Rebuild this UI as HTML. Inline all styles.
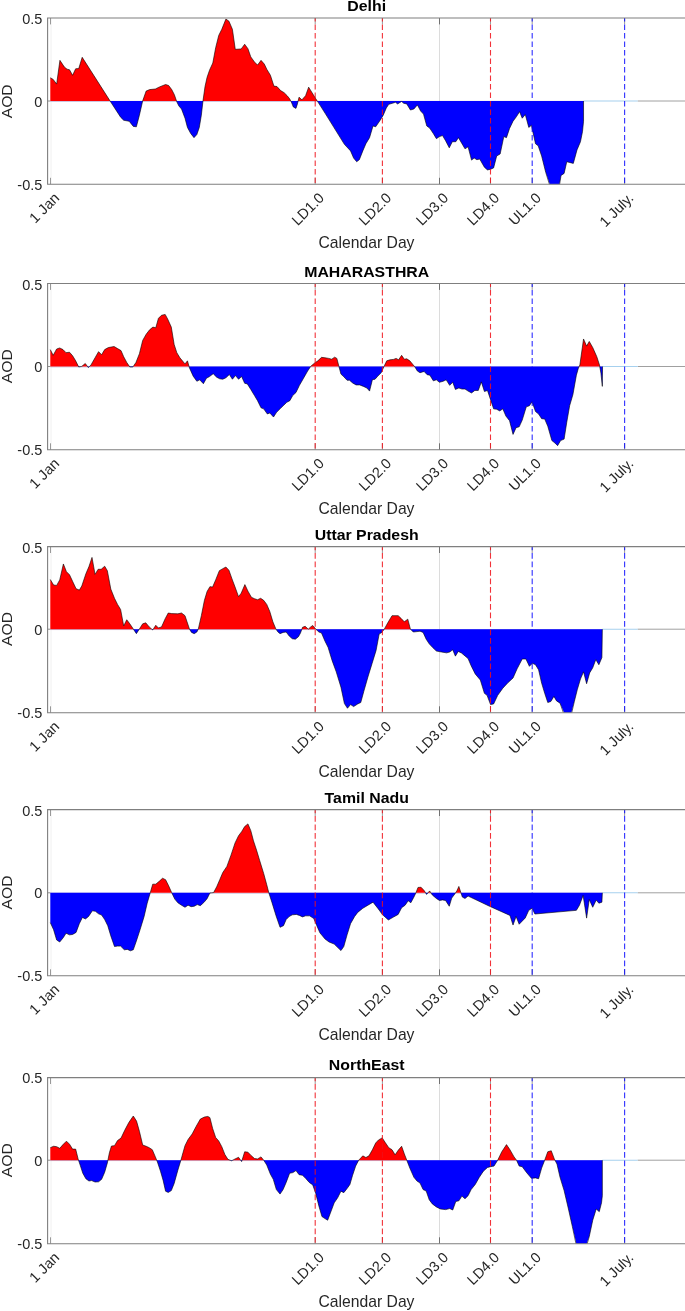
<!DOCTYPE html>
<html><head><meta charset="utf-8"><title>AOD</title>
<style>
html,body{margin:0;padding:0;background:#fff}
svg{display:block}
text{font-family:"Liberation Sans",Arial,sans-serif;fill:#262626}
.t{font-size:14.5px}
.b{font-size:15.4px;font-weight:bold;fill:#000}
.l{font-size:15.7px}
</style></head><body>
<svg width="685" height="1311" viewBox="0 0 685 1311">
<rect width="685" height="1311" fill="#fff"/>

<g>
<clipPath id="cc1"><rect x="47.6" y="18.0" width="642.4" height="166.2"/></clipPath>
<line x1="439.5" y1="18.0" x2="439.5" y2="184.2" stroke="#dcdcdc" stroke-width="1"/>
<line x1="51" y1="18.0" x2="51" y2="184.2" stroke="#f0f0f0" stroke-width="1"/>
<line x1="50.3" y1="101.35" x2="583.5" y2="101.35" stroke="#b4a8d0" stroke-width="0.8"/>
<line x1="47.6" y1="101.0" x2="50.3" y2="101.0" stroke="#8c8c8c" stroke-width="1"/>
<line x1="637.7" y1="101.0" x2="685" y2="101.0" stroke="#a0a0a0" stroke-width="1"/>
<line x1="583.5" y1="101.0" x2="637.7" y2="101.0" stroke="#a6d0ee" stroke-width="1.1"/>
<path d="M50.31 101.00 L50.31 77.74 L53.18 79.38 L56.65 84.08 L59.92 60.37 L64.42 67.12 L67.07 69.16 L69.53 69.77 L72.59 75.29 L75.66 68.75 L78.72 68.55 L82.20 57.31 L109.99 100.84 L110.09 101.00 L120.62 101.00 L123.69 101.00 L129.20 101.00 L133.29 101.00 L136.36 101.00 L139.42 101.00 L142.65 101.00 L142.69 100.84 L146.17 91.03 L149.64 89.60 L155.36 88.99 L159.45 86.94 L165.58 84.49 L168.65 85.51 L171.72 89.60 L174.37 94.71 L176.53 101.00 L176.82 101.00 L178.87 101.00 L181.53 101.00 L185.00 101.00 L187.45 101.00 L190.72 101.00 L193.99 101.00 L196.85 101.00 L199.31 101.00 L201.35 101.00 L202.97 101.00 L202.99 100.84 L205.03 86.53 L207.07 77.34 L209.53 70.18 L212.80 63.03 L215.66 47.70 L218.72 35.44 L221.79 29.31 L225.88 19.09 L228.94 21.13 L232.42 29.31 L235.28 49.34 L241.20 48.93 L244.68 44.23 L247.95 48.72 L250.81 56.90 L254.49 62.01 L257.55 65.07 L261.03 60.37 L264.30 64.05 L266.75 69.16 L270.43 75.29 L273.91 86.12 L276.97 86.53 L280.65 90.62 L284.12 92.66 L287.19 95.73 L289.64 98.80 L290.82 101.00 L291.28 101.00 L293.32 101.00 L295.98 101.00 L297.41 101.00 L298.11 101.00 L299.04 97.16 L301.91 99.82 L305.58 95.73 L308.65 87.15 L315.80 98.80 L317.27 101.00 L317.85 101.00 L325.00 101.00 L344.42 101.00 L350.55 101.00 L353.61 101.00 L356.68 101.00 L359.34 101.00 L362.81 101.00 L365.88 101.00 L369.55 101.00 L373.03 101.00 L375.69 101.00 L380.18 101.00 L383.25 101.00 L386.31 101.00 L388.77 101.00 L392.45 101.00 L395.51 101.00 L397.55 101.00 L401.64 101.00 L403.69 101.00 L406.75 101.00 L410.43 101.00 L413.91 101.00 L417.38 101.00 L420.65 101.00 L423.51 101.00 L426.78 101.00 L429.64 101.00 L433.32 101.00 L436.39 101.00 L439.45 101.00 L442.52 101.00 L445.58 101.00 L449.26 101.00 L452.33 101.00 L455.80 101.00 L458.46 101.00 L465.00 101.00 L468.07 101.00 L471.54 101.00 L474.20 101.00 L476.85 101.00 L479.72 101.00 L484.42 101.00 L487.48 101.00 L490.55 101.00 L493.61 101.00 L496.68 101.00 L500.15 101.00 L503.83 101.00 L506.49 101.00 L509.55 101.00 L513.03 101.00 L516.50 101.00 L519.57 101.00 L522.23 101.00 L525.29 101.00 L528.77 101.00 L531.42 101.00 L535.51 101.00 L538.17 101.00 L541.64 101.00 L545.73 101.00 L549.82 101.00 L559.42 101.00 L561.06 101.00 L564.12 101.00 L566.78 101.00 L573.32 101.00 L577.00 101.00 L580.47 101.00 L582.52 101.00 L583.54 101.00 L583.54 101.00 Z" fill="#ff0000"/>
<path d="M50.31 101.00 L50.31 101.00 L53.18 101.00 L56.65 101.00 L59.92 101.00 L64.42 101.00 L67.07 101.00 L69.53 101.00 L72.59 101.00 L75.66 101.00 L78.72 101.00 L82.20 101.00 L109.99 101.00 L110.09 101.00 L120.62 117.19 L123.69 120.26 L129.20 121.28 L133.29 126.39 L136.36 126.80 L139.42 115.15 L142.65 101.00 L142.69 101.00 L146.17 101.00 L149.64 101.00 L155.36 101.00 L159.45 101.00 L165.58 101.00 L168.65 101.00 L171.72 101.00 L174.37 101.00 L176.53 101.00 L176.82 101.86 L178.87 105.95 L181.53 109.01 L185.00 118.21 L187.45 127.41 L190.72 133.54 L193.99 137.63 L196.85 134.56 L199.31 127.41 L201.35 115.15 L202.97 101.00 L202.99 101.00 L205.03 101.00 L207.07 101.00 L209.53 101.00 L212.80 101.00 L215.66 101.00 L218.72 101.00 L221.79 101.00 L225.88 101.00 L228.94 101.00 L232.42 101.00 L235.28 101.00 L241.20 101.00 L244.68 101.00 L247.95 101.00 L250.81 101.00 L254.49 101.00 L257.55 101.00 L261.03 101.00 L264.30 101.00 L266.75 101.00 L270.43 101.00 L273.91 101.00 L276.97 101.00 L280.65 101.00 L284.12 101.00 L287.19 101.00 L289.64 101.00 L290.82 101.00 L291.28 101.86 L293.32 106.97 L295.98 108.40 L297.41 103.91 L298.11 101.00 L299.04 101.00 L301.91 101.00 L305.58 101.00 L308.65 101.00 L315.80 101.00 L317.27 101.00 L317.85 101.86 L325.00 113.10 L344.42 144.37 L350.55 150.91 L353.61 158.07 L356.68 161.74 L359.34 159.70 L362.81 150.91 L365.88 143.76 L369.55 137.63 L373.03 125.98 L375.69 126.80 L380.18 120.26 L383.25 115.15 L386.31 107.99 L388.77 104.31 L392.45 103.29 L395.51 102.27 L397.55 103.91 L401.64 101.45 L403.69 103.29 L406.75 103.91 L410.43 110.04 L413.91 109.01 L417.38 104.93 L420.65 111.06 L423.51 114.12 L426.78 125.98 L429.64 128.02 L433.32 133.54 L436.39 138.65 L439.45 136.61 L442.52 135.58 L445.58 140.69 L449.26 147.85 L452.33 141.72 L455.80 141.72 L458.46 137.63 L465.00 148.87 L468.07 146.82 L471.54 160.11 L474.20 158.07 L476.85 159.70 L479.72 159.09 L484.42 167.26 L487.48 169.92 L490.55 169.31 L493.61 167.88 L496.68 156.02 L500.15 153.98 L503.83 136.61 L506.49 137.63 L509.55 128.43 L513.03 121.28 L516.50 116.58 L519.57 111.67 L522.23 118.21 L525.29 114.53 L528.77 127.41 L531.42 125.36 L535.51 143.76 L538.17 145.80 L541.64 156.02 L545.73 172.37 L549.82 184.20 L559.42 184.20 L561.06 175.44 L564.12 173.39 L566.78 161.74 L573.32 163.38 L577.00 149.89 L580.47 141.72 L582.52 131.50 L583.54 121.28 L583.54 101.00 Z" fill="#0000ff"/>
<path d="M50.31 77.74 L53.18 79.38 L56.65 84.08 L59.92 60.37 L64.42 67.12 L67.07 69.16 L69.53 69.77 L72.59 75.29 L75.66 68.75 L78.72 68.55 L82.20 57.31 L109.99 100.84 L120.62 117.19 L123.69 120.26 L129.20 121.28 L133.29 126.39 L136.36 126.80 L139.42 115.15 L142.69 100.84 L146.17 91.03 L149.64 89.60 L155.36 88.99 L159.45 86.94 L165.58 84.49 L168.65 85.51 L171.72 89.60 L174.37 94.71 L176.82 101.86 L178.87 105.95 L181.53 109.01 L185.00 118.21 L187.45 127.41 L190.72 133.54 L193.99 137.63 L196.85 134.56 L199.31 127.41 L201.35 115.15 L202.99 100.84 L205.03 86.53 L207.07 77.34 L209.53 70.18 L212.80 63.03 L215.66 47.70 L218.72 35.44 L221.79 29.31 L225.88 19.09 L228.94 21.13 L232.42 29.31 L235.28 49.34 L241.20 48.93 L244.68 44.23 L247.95 48.72 L250.81 56.90 L254.49 62.01 L257.55 65.07 L261.03 60.37 L264.30 64.05 L266.75 69.16 L270.43 75.29 L273.91 86.12 L276.97 86.53 L280.65 90.62 L284.12 92.66 L287.19 95.73 L289.64 98.80 L291.28 101.86 L293.32 106.97 L295.98 108.40 L297.41 103.91 L299.04 97.16 L301.91 99.82 L305.58 95.73 L308.65 87.15 L315.80 98.80 L317.85 101.86 L325.00 113.10 L344.42 144.37 L350.55 150.91 L353.61 158.07 L356.68 161.74 L359.34 159.70 L362.81 150.91 L365.88 143.76 L369.55 137.63 L373.03 125.98 L375.69 126.80 L380.18 120.26 L383.25 115.15 L386.31 107.99 L388.77 104.31 L392.45 103.29 L395.51 102.27 L397.55 103.91 L401.64 101.45 L403.69 103.29 L406.75 103.91 L410.43 110.04 L413.91 109.01 L417.38 104.93 L420.65 111.06 L423.51 114.12 L426.78 125.98 L429.64 128.02 L433.32 133.54 L436.39 138.65 L439.45 136.61 L442.52 135.58 L445.58 140.69 L449.26 147.85 L452.33 141.72 L455.80 141.72 L458.46 137.63 L465.00 148.87 L468.07 146.82 L471.54 160.11 L474.20 158.07 L476.85 159.70 L479.72 159.09 L484.42 167.26 L487.48 169.92 L490.55 169.31 L493.61 167.88 L496.68 156.02 L500.15 153.98 L503.83 136.61 L506.49 137.63 L509.55 128.43 L513.03 121.28 L516.50 116.58 L519.57 111.67 L522.23 118.21 L525.29 114.53 L528.77 127.41 L531.42 125.36 L535.51 143.76 L538.17 145.80 L541.64 156.02 L545.73 172.37 L549.82 185.66 L559.42 185.66 L561.06 175.44 L564.12 173.39 L566.78 161.74 L573.32 163.38 L577.00 149.89 L580.47 141.72 L582.52 131.50 L583.54 121.28 L583.54 101.00" fill="none" stroke="#000" stroke-width="0.6" stroke-linejoin="round" clip-path="url(#cc1)"/>
<line x1="50.5" y1="18.0" x2="50.5" y2="24.4" stroke="#808080" stroke-width="0.8"/>
<line x1="50.5" y1="184.2" x2="50.5" y2="177.79999999999998" stroke="#808080" stroke-width="0.8"/>
<line x1="315.2" y1="18.0" x2="315.2" y2="24.4" stroke="#808080" stroke-width="0.8"/>
<line x1="315.2" y1="184.2" x2="315.2" y2="177.79999999999998" stroke="#808080" stroke-width="0.8"/>
<line x1="382.4" y1="18.0" x2="382.4" y2="24.4" stroke="#808080" stroke-width="0.8"/>
<line x1="382.4" y1="184.2" x2="382.4" y2="177.79999999999998" stroke="#808080" stroke-width="0.8"/>
<line x1="439.5" y1="18.0" x2="439.5" y2="24.4" stroke="#555" stroke-width="0.8"/>
<line x1="439.5" y1="184.2" x2="439.5" y2="177.79999999999998" stroke="#555" stroke-width="0.8"/>
<line x1="490.5" y1="18.0" x2="490.5" y2="24.4" stroke="#808080" stroke-width="0.8"/>
<line x1="490.5" y1="184.2" x2="490.5" y2="177.79999999999998" stroke="#808080" stroke-width="0.8"/>
<line x1="532.2" y1="18.0" x2="532.2" y2="24.4" stroke="#808080" stroke-width="0.8"/>
<line x1="532.2" y1="184.2" x2="532.2" y2="177.79999999999998" stroke="#808080" stroke-width="0.8"/>
<line x1="624.6" y1="18.0" x2="624.6" y2="24.4" stroke="#808080" stroke-width="0.8"/>
<line x1="624.6" y1="184.2" x2="624.6" y2="177.79999999999998" stroke="#808080" stroke-width="0.8"/>
<line x1="315.2" y1="18.0" x2="315.2" y2="184.2" stroke="#f01018" stroke-width="1.1" stroke-dasharray="5.7 2.8" stroke-dashoffset="2.1" opacity="0.85"/>
<line x1="382.4" y1="18.0" x2="382.4" y2="184.2" stroke="#f01018" stroke-width="1.1" stroke-dasharray="5.7 2.8" stroke-dashoffset="2.1" opacity="0.85"/>
<line x1="490.5" y1="18.0" x2="490.5" y2="184.2" stroke="#f01018" stroke-width="1.1" stroke-dasharray="5.7 2.8" stroke-dashoffset="2.1" opacity="0.85"/>
<line x1="532.2" y1="18.0" x2="532.2" y2="184.2" stroke="#0000ff" stroke-width="1.15" stroke-dasharray="5.7 2.8" stroke-dashoffset="2.1" opacity="0.78"/>
<line x1="624.6" y1="18.0" x2="624.6" y2="184.2" stroke="#0000ff" stroke-width="1.15" stroke-dasharray="5.7 2.8" stroke-dashoffset="2.1" opacity="0.78"/>
<path d="M685 18.0 H47.6 V184.2 H685" fill="none" stroke="#7f7f7f" stroke-width="1.1"/>
<text class="t" x="42.3" y="24" text-anchor="end">0.5</text>
<text class="t" x="42.3" y="107" text-anchor="end">0</text>
<text class="t" x="42.3" y="190" text-anchor="end">-0.5</text>
<text class="l" transform="translate(12.4 101.3) rotate(-90) scale(1 0.96)" text-anchor="middle">AOD</text>
<text class="t" transform="translate(60.3 198.9) rotate(-45)" text-anchor="end">1 Jan</text>
<text class="t" transform="translate(325.0 198.9) rotate(-45)" text-anchor="end">LD1.0</text>
<text class="t" transform="translate(392.2 198.9) rotate(-45)" text-anchor="end">LD2.0</text>
<text class="t" transform="translate(449.3 198.9) rotate(-45)" text-anchor="end">LD3.0</text>
<text class="t" transform="translate(500.3 198.9) rotate(-45)" text-anchor="end">LD4.0</text>
<text class="t" transform="translate(542.0 198.9) rotate(-45)" text-anchor="end">UL1.0</text>
<text class="t" transform="translate(634.4 198.9) rotate(-45)" text-anchor="end">1 July.</text>
<text class="l" x="366.5" y="248" text-anchor="middle">Calendar Day</text>
<text class="b" transform="translate(366.7 11) scale(1.03 1)" text-anchor="middle">Delhi</text>
</g>
<g>
<clipPath id="cc2"><rect x="47.6" y="283.5" width="642.4" height="166.2"/></clipPath>
<line x1="439.5" y1="283.5" x2="439.5" y2="449.7" stroke="#dcdcdc" stroke-width="1"/>
<line x1="51" y1="283.5" x2="51" y2="449.7" stroke="#f0f0f0" stroke-width="1"/>
<line x1="50.3" y1="366.85" x2="602.5" y2="366.85" stroke="#b4a8d0" stroke-width="0.8"/>
<line x1="47.6" y1="366.5" x2="50.3" y2="366.5" stroke="#8c8c8c" stroke-width="1"/>
<line x1="637.7" y1="366.5" x2="685" y2="366.5" stroke="#a0a0a0" stroke-width="1"/>
<line x1="602.5" y1="366.5" x2="637.7" y2="366.5" stroke="#a6d0ee" stroke-width="1.1"/>
<path d="M50.31 366.50 L50.31 349.60 L53.18 355.32 L56.65 348.99 L59.72 347.96 L62.99 349.60 L66.05 352.66 L69.53 352.26 L72.59 355.73 L75.66 360.84 L78.49 366.50 L78.72 366.50 L81.09 366.50 L81.79 366.36 L85.26 363.50 L87.52 366.50 L88.33 366.50 L89.41 366.50 L90.99 364.93 L95.07 357.77 L98.55 351.64 L101.61 354.71 L104.68 349.60 L108.36 347.55 L114.08 346.53 L117.55 348.58 L121.03 350.62 L123.69 356.75 L126.75 362.47 L129.50 366.50 L129.82 366.50 L132.88 366.50 L133.20 366.50 L135.95 362.47 L139.42 353.69 L142.69 340.40 L146.17 334.27 L149.64 329.77 L152.91 327.12 L155.77 327.73 L158.43 318.33 L161.50 315.26 L165.18 314.45 L167.63 318.94 L171.31 327.12 L174.17 344.49 L176.82 352.66 L179.89 357.77 L185.00 363.91 L187.45 360.84 L189.07 366.50 L189.50 366.50 L193.18 366.50 L196.85 366.50 L199.72 366.50 L203.39 366.50 L206.46 366.50 L209.53 366.50 L213.20 366.50 L216.68 366.50 L219.74 366.50 L222.81 366.50 L225.88 366.50 L229.35 366.50 L232.42 366.50 L235.48 366.50 L238.55 366.50 L241.61 366.50 L244.68 366.50 L247.34 366.50 L250.81 366.50 L254.49 366.50 L257.55 366.50 L261.03 366.50 L263.69 366.50 L267.36 366.50 L269.82 366.50 L273.50 366.50 L276.56 366.50 L280.04 366.50 L283.51 366.50 L286.78 366.50 L289.85 366.50 L292.71 366.50 L295.98 366.50 L299.45 366.50 L303.54 366.50 L307.63 366.50 L310.60 366.50 L310.69 366.36 L314.78 362.88 L317.85 360.84 L321.53 357.36 L325.00 357.77 L328.68 358.39 L331.74 359.20 L334.61 357.16 L336.85 358.39 L338.90 366.36 L338.94 366.50 L340.94 366.50 L343.80 366.50 L347.07 366.50 L349.53 366.50 L352.59 366.50 L356.07 366.50 L359.74 366.50 L363.42 366.50 L366.90 366.50 L369.55 366.50 L372.42 366.50 L375.07 366.50 L377.73 366.50 L381.20 366.50 L384.02 366.50 L384.27 365.95 L386.72 360.84 L389.99 359.82 L393.47 359.41 L396.12 358.39 L398.58 359.82 L401.64 355.32 L404.30 359.20 L406.75 358.80 L409.82 360.84 L412.88 364.52 L414.54 366.50 L414.93 366.50 L417.38 366.50 L420.04 366.50 L424.12 366.50 L427.19 366.50 L429.85 366.50 L433.32 366.50 L436.39 366.50 L439.45 366.50 L443.13 366.50 L446.20 366.50 L449.67 366.50 L452.74 366.50 L455.39 366.50 L458.87 366.50 L461.93 366.50 L465.00 366.50 L468.07 366.50 L471.54 366.50 L474.81 366.50 L478.28 366.50 L481.35 366.50 L484.42 366.50 L487.48 366.50 L490.55 366.50 L493.61 366.50 L496.68 366.50 L499.74 366.50 L502.81 366.50 L505.88 366.50 L509.55 366.50 L513.03 366.50 L516.09 366.50 L519.16 366.50 L522.23 366.50 L526.31 366.50 L529.38 366.50 L532.04 366.50 L535.51 366.50 L538.58 366.50 L541.64 366.50 L544.71 366.50 L547.77 366.50 L551.86 366.50 L554.93 366.50 L557.58 366.50 L560.65 366.50 L564.12 366.50 L566.78 366.50 L569.64 366.50 L572.91 366.50 L576.39 366.50 L578.43 366.50 L579.13 366.50 L579.86 364.93 L583.54 338.97 L586.61 346.12 L589.26 341.42 L592.74 347.55 L596.82 356.75 L599.48 364.93 L599.75 366.50 L600.91 366.50 L602.34 366.50 L602.55 366.50 Z" fill="#ff0000"/>
<path d="M50.31 366.50 L50.31 366.50 L53.18 366.50 L56.65 366.50 L59.72 366.50 L62.99 366.50 L66.05 366.50 L69.53 366.50 L72.59 366.50 L75.66 366.50 L78.49 366.50 L78.72 366.97 L81.09 366.50 L81.79 366.50 L85.26 366.50 L87.52 366.50 L88.33 367.58 L89.41 366.50 L90.99 366.50 L95.07 366.50 L98.55 366.50 L101.61 366.50 L104.68 366.50 L108.36 366.50 L114.08 366.50 L117.55 366.50 L121.03 366.50 L123.69 366.50 L126.75 366.50 L129.50 366.50 L129.82 366.97 L132.88 366.97 L133.20 366.50 L135.95 366.50 L139.42 366.50 L142.69 366.50 L146.17 366.50 L149.64 366.50 L152.91 366.50 L155.77 366.50 L158.43 366.50 L161.50 366.50 L165.18 366.50 L167.63 366.50 L171.31 366.50 L174.17 366.50 L176.82 366.50 L179.89 366.50 L185.00 366.50 L187.45 366.50 L189.07 366.50 L189.50 367.99 L193.18 376.17 L196.85 381.28 L199.72 379.85 L203.39 383.73 L206.46 378.21 L209.53 376.58 L213.20 373.72 L216.68 377.19 L219.74 378.82 L222.81 379.23 L225.88 377.80 L229.35 374.53 L232.42 379.23 L235.48 375.55 L238.55 379.23 L241.61 376.58 L244.68 383.32 L247.34 383.93 L250.81 389.45 L254.49 395.58 L257.55 400.69 L261.03 407.85 L263.69 408.87 L267.36 413.98 L269.82 412.96 L273.50 417.04 L276.56 412.34 L280.04 408.87 L283.51 405.39 L286.78 402.33 L289.85 400.69 L292.71 395.58 L295.98 392.52 L299.45 385.36 L303.54 378.21 L307.63 371.06 L310.60 366.50 L310.69 366.50 L314.78 366.50 L317.85 366.50 L321.53 366.50 L325.00 366.50 L328.68 366.50 L331.74 366.50 L334.61 366.50 L336.85 366.50 L338.90 366.50 L338.94 366.50 L340.94 374.12 L343.80 376.78 L347.07 380.26 L349.53 380.26 L352.59 382.91 L356.07 384.96 L359.74 384.96 L363.42 386.39 L366.90 388.02 L369.55 391.09 L372.42 379.64 L375.07 379.23 L377.73 376.17 L381.20 372.69 L384.02 366.50 L384.27 366.50 L386.72 366.50 L389.99 366.50 L393.47 366.50 L396.12 366.50 L398.58 366.50 L401.64 366.50 L404.30 366.50 L406.75 366.50 L409.82 366.50 L412.88 366.50 L414.54 366.50 L414.93 366.97 L417.38 371.06 L420.04 372.69 L424.12 371.47 L427.19 374.74 L429.85 375.15 L433.32 380.87 L436.39 379.85 L439.45 382.30 L443.13 381.28 L446.20 379.85 L449.67 385.36 L452.74 382.30 L455.39 389.45 L458.87 388.02 L461.93 389.04 L465.00 389.04 L468.07 391.09 L471.54 392.93 L474.81 390.47 L478.28 390.47 L481.35 381.89 L484.42 391.50 L487.48 390.47 L490.55 399.67 L493.61 408.87 L496.68 409.28 L499.74 410.91 L502.81 408.87 L505.88 416.02 L509.55 420.72 L513.03 434.42 L516.09 427.67 L519.16 426.85 L522.23 420.11 L526.31 406.82 L529.38 405.80 L532.04 401.72 L535.51 411.53 L538.58 413.98 L541.64 418.68 L544.71 419.09 L547.77 426.24 L551.86 440.55 L554.93 443.00 L557.58 445.66 L560.65 440.55 L564.12 439.12 L566.78 422.15 L569.64 405.80 L572.91 394.56 L576.39 375.15 L578.43 367.99 L579.13 366.50 L579.86 366.50 L583.54 366.50 L586.61 366.50 L589.26 366.50 L592.74 366.50 L596.82 366.50 L599.48 366.50 L599.75 366.50 L600.91 373.10 L602.34 386.39 L602.55 366.50 Z" fill="#0000ff"/>
<path d="M50.31 349.60 L53.18 355.32 L56.65 348.99 L59.72 347.96 L62.99 349.60 L66.05 352.66 L69.53 352.26 L72.59 355.73 L75.66 360.84 L78.72 366.97 L81.79 366.36 L85.26 363.50 L88.33 367.58 L90.99 364.93 L95.07 357.77 L98.55 351.64 L101.61 354.71 L104.68 349.60 L108.36 347.55 L114.08 346.53 L117.55 348.58 L121.03 350.62 L123.69 356.75 L126.75 362.47 L129.82 366.97 L132.88 366.97 L135.95 362.47 L139.42 353.69 L142.69 340.40 L146.17 334.27 L149.64 329.77 L152.91 327.12 L155.77 327.73 L158.43 318.33 L161.50 315.26 L165.18 314.45 L167.63 318.94 L171.31 327.12 L174.17 344.49 L176.82 352.66 L179.89 357.77 L185.00 363.91 L187.45 360.84 L189.50 367.99 L193.18 376.17 L196.85 381.28 L199.72 379.85 L203.39 383.73 L206.46 378.21 L209.53 376.58 L213.20 373.72 L216.68 377.19 L219.74 378.82 L222.81 379.23 L225.88 377.80 L229.35 374.53 L232.42 379.23 L235.48 375.55 L238.55 379.23 L241.61 376.58 L244.68 383.32 L247.34 383.93 L250.81 389.45 L254.49 395.58 L257.55 400.69 L261.03 407.85 L263.69 408.87 L267.36 413.98 L269.82 412.96 L273.50 417.04 L276.56 412.34 L280.04 408.87 L283.51 405.39 L286.78 402.33 L289.85 400.69 L292.71 395.58 L295.98 392.52 L299.45 385.36 L303.54 378.21 L307.63 371.06 L310.69 366.36 L314.78 362.88 L317.85 360.84 L321.53 357.36 L325.00 357.77 L328.68 358.39 L331.74 359.20 L334.61 357.16 L336.85 358.39 L338.90 366.36 L340.94 374.12 L343.80 376.78 L347.07 380.26 L349.53 380.26 L352.59 382.91 L356.07 384.96 L359.74 384.96 L363.42 386.39 L366.90 388.02 L369.55 391.09 L372.42 379.64 L375.07 379.23 L377.73 376.17 L381.20 372.69 L384.27 365.95 L386.72 360.84 L389.99 359.82 L393.47 359.41 L396.12 358.39 L398.58 359.82 L401.64 355.32 L404.30 359.20 L406.75 358.80 L409.82 360.84 L412.88 364.52 L414.93 366.97 L417.38 371.06 L420.04 372.69 L424.12 371.47 L427.19 374.74 L429.85 375.15 L433.32 380.87 L436.39 379.85 L439.45 382.30 L443.13 381.28 L446.20 379.85 L449.67 385.36 L452.74 382.30 L455.39 389.45 L458.87 388.02 L461.93 389.04 L465.00 389.04 L468.07 391.09 L471.54 392.93 L474.81 390.47 L478.28 390.47 L481.35 381.89 L484.42 391.50 L487.48 390.47 L490.55 399.67 L493.61 408.87 L496.68 409.28 L499.74 410.91 L502.81 408.87 L505.88 416.02 L509.55 420.72 L513.03 434.42 L516.09 427.67 L519.16 426.85 L522.23 420.11 L526.31 406.82 L529.38 405.80 L532.04 401.72 L535.51 411.53 L538.58 413.98 L541.64 418.68 L544.71 419.09 L547.77 426.24 L551.86 440.55 L554.93 443.00 L557.58 445.66 L560.65 440.55 L564.12 439.12 L566.78 422.15 L569.64 405.80 L572.91 394.56 L576.39 375.15 L578.43 367.99 L579.86 364.93 L583.54 338.97 L586.61 346.12 L589.26 341.42 L592.74 347.55 L596.82 356.75 L599.48 364.93 L600.91 373.10 L602.34 386.39 L602.55 366.50" fill="none" stroke="#000" stroke-width="0.6" stroke-linejoin="round" clip-path="url(#cc2)"/>
<line x1="50.5" y1="283.5" x2="50.5" y2="289.9" stroke="#808080" stroke-width="0.8"/>
<line x1="50.5" y1="449.7" x2="50.5" y2="443.3" stroke="#808080" stroke-width="0.8"/>
<line x1="315.2" y1="283.5" x2="315.2" y2="289.9" stroke="#808080" stroke-width="0.8"/>
<line x1="315.2" y1="449.7" x2="315.2" y2="443.3" stroke="#808080" stroke-width="0.8"/>
<line x1="382.4" y1="283.5" x2="382.4" y2="289.9" stroke="#808080" stroke-width="0.8"/>
<line x1="382.4" y1="449.7" x2="382.4" y2="443.3" stroke="#808080" stroke-width="0.8"/>
<line x1="439.5" y1="283.5" x2="439.5" y2="289.9" stroke="#555" stroke-width="0.8"/>
<line x1="439.5" y1="449.7" x2="439.5" y2="443.3" stroke="#555" stroke-width="0.8"/>
<line x1="490.5" y1="283.5" x2="490.5" y2="289.9" stroke="#808080" stroke-width="0.8"/>
<line x1="490.5" y1="449.7" x2="490.5" y2="443.3" stroke="#808080" stroke-width="0.8"/>
<line x1="532.2" y1="283.5" x2="532.2" y2="289.9" stroke="#808080" stroke-width="0.8"/>
<line x1="532.2" y1="449.7" x2="532.2" y2="443.3" stroke="#808080" stroke-width="0.8"/>
<line x1="624.6" y1="283.5" x2="624.6" y2="289.9" stroke="#808080" stroke-width="0.8"/>
<line x1="624.6" y1="449.7" x2="624.6" y2="443.3" stroke="#808080" stroke-width="0.8"/>
<line x1="315.2" y1="283.5" x2="315.2" y2="449.7" stroke="#f01018" stroke-width="1.1" stroke-dasharray="5.7 2.8" stroke-dashoffset="2.1" opacity="0.85"/>
<line x1="382.4" y1="283.5" x2="382.4" y2="449.7" stroke="#f01018" stroke-width="1.1" stroke-dasharray="5.7 2.8" stroke-dashoffset="2.1" opacity="0.85"/>
<line x1="490.5" y1="283.5" x2="490.5" y2="449.7" stroke="#f01018" stroke-width="1.1" stroke-dasharray="5.7 2.8" stroke-dashoffset="2.1" opacity="0.85"/>
<line x1="532.2" y1="283.5" x2="532.2" y2="449.7" stroke="#0000ff" stroke-width="1.15" stroke-dasharray="5.7 2.8" stroke-dashoffset="2.1" opacity="0.78"/>
<line x1="624.6" y1="283.5" x2="624.6" y2="449.7" stroke="#0000ff" stroke-width="1.15" stroke-dasharray="5.7 2.8" stroke-dashoffset="2.1" opacity="0.78"/>
<path d="M685 283.5 H47.6 V449.7 H685" fill="none" stroke="#7f7f7f" stroke-width="1.1"/>
<text class="t" x="42.3" y="290" text-anchor="end">0.5</text>
<text class="t" x="42.3" y="372" text-anchor="end">0</text>
<text class="t" x="42.3" y="455" text-anchor="end">-0.5</text>
<text class="l" transform="translate(12.4 366.2) rotate(-90) scale(1 0.96)" text-anchor="middle">AOD</text>
<text class="t" transform="translate(60.3 464.4) rotate(-45)" text-anchor="end">1 Jan</text>
<text class="t" transform="translate(325.0 464.4) rotate(-45)" text-anchor="end">LD1.0</text>
<text class="t" transform="translate(392.2 464.4) rotate(-45)" text-anchor="end">LD2.0</text>
<text class="t" transform="translate(449.3 464.4) rotate(-45)" text-anchor="end">LD3.0</text>
<text class="t" transform="translate(500.3 464.4) rotate(-45)" text-anchor="end">LD4.0</text>
<text class="t" transform="translate(542.0 464.4) rotate(-45)" text-anchor="end">UL1.0</text>
<text class="t" transform="translate(634.4 464.4) rotate(-45)" text-anchor="end">1 July.</text>
<text class="l" x="366.5" y="514" text-anchor="middle">Calendar Day</text>
<text class="b" transform="translate(366.7 277) scale(1.03 1)" text-anchor="middle">MAHARASTHRA</text>
</g>
<g>
<clipPath id="cc3"><rect x="47.6" y="546.6" width="642.4" height="166.10000000000002"/></clipPath>
<line x1="439.5" y1="546.6" x2="439.5" y2="712.7" stroke="#dcdcdc" stroke-width="1"/>
<line x1="51" y1="546.6" x2="51" y2="712.7" stroke="#f0f0f0" stroke-width="1"/>
<line x1="50.3" y1="629.5500000000001" x2="602.3" y2="629.5500000000001" stroke="#b4a8d0" stroke-width="0.8"/>
<line x1="47.6" y1="629.2" x2="50.3" y2="629.2" stroke="#8c8c8c" stroke-width="1"/>
<line x1="637.7" y1="629.2" x2="685" y2="629.2" stroke="#a0a0a0" stroke-width="1"/>
<line x1="602.3" y1="629.2" x2="637.7" y2="629.2" stroke="#a6d0ee" stroke-width="1.1"/>
<path d="M50.31 629.20 L50.31 579.49 L53.58 585.01 L56.65 585.42 L59.72 579.90 L63.39 563.96 L66.46 571.72 L69.53 574.79 L72.59 581.33 L76.07 588.69 L79.34 590.12 L81.79 586.03 L85.88 573.77 L88.94 566.61 L92.01 557.42 L95.07 574.38 L98.14 569.27 L101.20 569.27 L104.68 566.20 L107.34 570.70 L110.81 589.09 L114.49 598.29 L117.55 604.42 L120.62 609.53 L123.69 625.88 L126.75 619.75 L129.82 623.84 L133.29 628.95 L133.45 629.20 L136.36 629.20 L139.26 629.20 L139.42 628.95 L142.69 623.84 L145.76 622.82 L149.23 626.91 L151.83 629.20 L152.71 629.20 L153.21 629.20 L155.77 625.27 L158.43 627.93 L161.50 626.91 L165.18 618.73 L168.24 613.01 L171.72 613.62 L177.85 613.82 L181.53 613.01 L185.00 615.66 L187.04 621.80 L189.50 629.15 L189.53 629.20 L191.54 629.20 L194.20 629.20 L196.85 629.20 L198.25 629.20 L198.28 629.15 L201.35 615.66 L204.42 600.34 L207.07 591.55 L209.93 586.64 L212.59 587.05 L215.66 579.90 L219.34 570.70 L222.81 568.66 L225.88 567.02 L228.94 570.29 L232.01 578.88 L235.07 587.05 L238.55 596.66 L241.20 593.18 L244.88 584.60 L247.95 591.14 L251.42 597.27 L254.49 598.70 L257.55 599.72 L260.62 598.29 L263.69 600.34 L266.75 604.42 L269.82 611.58 L272.88 621.80 L275.95 629.15 L275.99 629.20 L277.99 629.20 L280.04 629.20 L283.10 629.20 L286.17 629.20 L289.23 629.20 L292.30 629.20 L295.36 629.20 L298.43 629.20 L300.47 629.20 L301.84 629.20 L302.52 627.31 L305.18 626.29 L308.24 629.15 L310.69 626.91 L312.74 625.47 L315.80 629.15 L315.85 629.20 L318.87 629.20 L321.53 629.20 L325.00 629.20 L328.07 629.20 L332.15 629.20 L336.24 629.20 L340.94 629.20 L344.42 629.20 L347.48 629.20 L350.55 629.20 L353.61 629.20 L357.70 629.20 L360.77 629.20 L363.83 629.20 L367.92 629.20 L372.01 629.20 L376.09 629.20 L379.16 629.20 L381.82 629.20 L384.23 629.20 L384.27 629.15 L388.36 621.80 L392.04 615.66 L398.17 615.66 L401.03 618.32 L404.30 621.80 L407.77 619.14 L410.43 629.15 L410.48 629.20 L413.29 629.20 L416.97 629.20 L420.04 629.20 L423.10 629.20 L426.17 629.20 L429.23 629.20 L432.91 629.20 L436.39 629.20 L441.50 629.20 L446.61 629.20 L449.67 629.20 L452.74 629.20 L455.39 629.20 L458.26 629.20 L461.53 629.20 L465.00 629.20 L468.07 629.20 L471.13 629.20 L475.22 629.20 L480.33 629.20 L484.42 629.20 L487.07 629.20 L490.55 629.20 L493.61 629.20 L497.70 629.20 L502.81 629.20 L507.92 629.20 L513.03 629.20 L517.12 629.20 L522.23 629.20 L525.91 629.20 L529.38 629.20 L532.45 629.20 L535.51 629.20 L538.58 629.20 L541.64 629.20 L544.71 629.20 L547.77 629.20 L550.84 629.20 L553.91 629.20 L556.56 629.20 L560.04 629.20 L564.12 629.20 L571.28 629.20 L574.34 629.20 L577.41 629.20 L580.47 629.20 L583.54 629.20 L586.61 629.20 L589.67 629.20 L592.74 629.20 L595.80 629.20 L598.87 629.20 L601.93 629.20 L602.34 629.20 Z" fill="#ff0000"/>
<path d="M50.31 629.20 L50.31 629.20 L53.58 629.20 L56.65 629.20 L59.72 629.20 L63.39 629.20 L66.46 629.20 L69.53 629.20 L72.59 629.20 L76.07 629.20 L79.34 629.20 L81.79 629.20 L85.88 629.20 L88.94 629.20 L92.01 629.20 L95.07 629.20 L98.14 629.20 L101.20 629.20 L104.68 629.20 L107.34 629.20 L110.81 629.20 L114.49 629.20 L117.55 629.20 L120.62 629.20 L123.69 629.20 L126.75 629.20 L129.82 629.20 L133.29 629.20 L133.45 629.20 L136.36 633.65 L139.26 629.20 L139.42 629.20 L142.69 629.20 L145.76 629.20 L149.23 629.20 L151.83 629.20 L152.71 629.97 L153.21 629.20 L155.77 629.20 L158.43 629.20 L161.50 629.20 L165.18 629.20 L168.24 629.20 L171.72 629.20 L177.85 629.20 L181.53 629.20 L185.00 629.20 L187.04 629.20 L189.50 629.20 L189.53 629.20 L191.54 632.42 L194.20 633.65 L196.85 632.01 L198.25 629.20 L198.28 629.20 L201.35 629.20 L204.42 629.20 L207.07 629.20 L209.93 629.20 L212.59 629.20 L215.66 629.20 L219.34 629.20 L222.81 629.20 L225.88 629.20 L228.94 629.20 L232.01 629.20 L235.07 629.20 L238.55 629.20 L241.20 629.20 L244.88 629.20 L247.95 629.20 L251.42 629.20 L254.49 629.20 L257.55 629.20 L260.62 629.20 L263.69 629.20 L266.75 629.20 L269.82 629.20 L272.88 629.20 L275.95 629.20 L275.99 629.20 L277.99 632.01 L280.04 633.65 L283.10 632.42 L286.17 632.01 L289.23 636.10 L292.30 638.76 L295.36 639.17 L298.43 636.72 L300.47 633.04 L301.84 629.20 L302.52 629.20 L305.18 629.20 L308.24 629.20 L310.69 629.20 L312.74 629.20 L315.80 629.20 L315.85 629.20 L318.87 632.01 L321.53 633.04 L325.00 641.21 L328.07 647.34 L332.15 660.63 L336.24 671.87 L340.94 687.20 L344.42 703.55 L347.48 708.25 L350.55 704.57 L353.61 706.61 L357.70 703.96 L360.77 702.53 L363.83 691.28 L367.92 676.98 L372.01 663.69 L376.09 650.41 L379.16 634.06 L381.82 632.42 L384.23 629.20 L384.27 629.20 L388.36 629.20 L392.04 629.20 L398.17 629.20 L401.03 629.20 L404.30 629.20 L407.77 629.20 L410.43 629.20 L410.48 629.20 L413.29 632.01 L416.97 631.61 L420.04 631.20 L423.10 632.42 L426.17 639.17 L429.23 643.87 L432.91 647.75 L436.39 651.02 L441.50 652.04 L446.61 652.86 L449.67 652.04 L452.74 649.80 L455.39 656.13 L458.26 651.43 L461.53 653.07 L465.00 655.93 L468.07 658.58 L471.13 665.74 L475.22 673.91 L480.33 680.04 L484.42 693.33 L487.07 695.37 L490.55 704.57 L493.61 703.96 L497.70 695.37 L502.81 688.22 L507.92 682.70 L513.03 678.00 L517.12 668.80 L522.23 658.99 L525.91 658.99 L529.38 666.35 L532.45 663.28 L535.51 664.72 L538.58 669.82 L541.64 683.11 L544.71 693.33 L547.77 702.53 L550.84 701.50 L553.91 696.39 L556.56 700.89 L560.04 703.14 L564.12 712.70 L571.28 712.70 L574.34 701.50 L577.41 689.24 L580.47 679.02 L583.54 671.87 L586.61 683.72 L589.67 672.89 L592.74 667.78 L595.80 659.61 L598.87 664.72 L601.93 657.56 L602.34 629.20 Z" fill="#0000ff"/>
<path d="M50.31 579.49 L53.58 585.01 L56.65 585.42 L59.72 579.90 L63.39 563.96 L66.46 571.72 L69.53 574.79 L72.59 581.33 L76.07 588.69 L79.34 590.12 L81.79 586.03 L85.88 573.77 L88.94 566.61 L92.01 557.42 L95.07 574.38 L98.14 569.27 L101.20 569.27 L104.68 566.20 L107.34 570.70 L110.81 589.09 L114.49 598.29 L117.55 604.42 L120.62 609.53 L123.69 625.88 L126.75 619.75 L129.82 623.84 L133.29 628.95 L136.36 633.65 L139.42 628.95 L142.69 623.84 L145.76 622.82 L149.23 626.91 L152.71 629.97 L155.77 625.27 L158.43 627.93 L161.50 626.91 L165.18 618.73 L168.24 613.01 L171.72 613.62 L177.85 613.82 L181.53 613.01 L185.00 615.66 L187.04 621.80 L189.50 629.15 L191.54 632.42 L194.20 633.65 L196.85 632.01 L198.28 629.15 L201.35 615.66 L204.42 600.34 L207.07 591.55 L209.93 586.64 L212.59 587.05 L215.66 579.90 L219.34 570.70 L222.81 568.66 L225.88 567.02 L228.94 570.29 L232.01 578.88 L235.07 587.05 L238.55 596.66 L241.20 593.18 L244.88 584.60 L247.95 591.14 L251.42 597.27 L254.49 598.70 L257.55 599.72 L260.62 598.29 L263.69 600.34 L266.75 604.42 L269.82 611.58 L272.88 621.80 L275.95 629.15 L277.99 632.01 L280.04 633.65 L283.10 632.42 L286.17 632.01 L289.23 636.10 L292.30 638.76 L295.36 639.17 L298.43 636.72 L300.47 633.04 L302.52 627.31 L305.18 626.29 L308.24 629.15 L310.69 626.91 L312.74 625.47 L315.80 629.15 L318.87 632.01 L321.53 633.04 L325.00 641.21 L328.07 647.34 L332.15 660.63 L336.24 671.87 L340.94 687.20 L344.42 703.55 L347.48 708.25 L350.55 704.57 L353.61 706.61 L357.70 703.96 L360.77 702.53 L363.83 691.28 L367.92 676.98 L372.01 663.69 L376.09 650.41 L379.16 634.06 L381.82 632.42 L384.27 629.15 L388.36 621.80 L392.04 615.66 L398.17 615.66 L401.03 618.32 L404.30 621.80 L407.77 619.14 L410.43 629.15 L413.29 632.01 L416.97 631.61 L420.04 631.20 L423.10 632.42 L426.17 639.17 L429.23 643.87 L432.91 647.75 L436.39 651.02 L441.50 652.04 L446.61 652.86 L449.67 652.04 L452.74 649.80 L455.39 656.13 L458.26 651.43 L461.53 653.07 L465.00 655.93 L468.07 658.58 L471.13 665.74 L475.22 673.91 L480.33 680.04 L484.42 693.33 L487.07 695.37 L490.55 704.57 L493.61 703.96 L497.70 695.37 L502.81 688.22 L507.92 682.70 L513.03 678.00 L517.12 668.80 L522.23 658.99 L525.91 658.99 L529.38 666.35 L532.45 663.28 L535.51 664.72 L538.58 669.82 L541.64 683.11 L544.71 693.33 L547.77 702.53 L550.84 701.50 L553.91 696.39 L556.56 700.89 L560.04 703.14 L564.12 714.79 L571.28 714.79 L574.34 701.50 L577.41 689.24 L580.47 679.02 L583.54 671.87 L586.61 683.72 L589.67 672.89 L592.74 667.78 L595.80 659.61 L598.87 664.72 L601.93 657.56 L602.34 629.20" fill="none" stroke="#000" stroke-width="0.6" stroke-linejoin="round" clip-path="url(#cc3)"/>
<line x1="50.5" y1="546.6" x2="50.5" y2="553.0" stroke="#808080" stroke-width="0.8"/>
<line x1="50.5" y1="712.7" x2="50.5" y2="706.3000000000001" stroke="#808080" stroke-width="0.8"/>
<line x1="315.2" y1="546.6" x2="315.2" y2="553.0" stroke="#808080" stroke-width="0.8"/>
<line x1="315.2" y1="712.7" x2="315.2" y2="706.3000000000001" stroke="#808080" stroke-width="0.8"/>
<line x1="382.4" y1="546.6" x2="382.4" y2="553.0" stroke="#808080" stroke-width="0.8"/>
<line x1="382.4" y1="712.7" x2="382.4" y2="706.3000000000001" stroke="#808080" stroke-width="0.8"/>
<line x1="439.5" y1="546.6" x2="439.5" y2="553.0" stroke="#555" stroke-width="0.8"/>
<line x1="439.5" y1="712.7" x2="439.5" y2="706.3000000000001" stroke="#555" stroke-width="0.8"/>
<line x1="490.5" y1="546.6" x2="490.5" y2="553.0" stroke="#808080" stroke-width="0.8"/>
<line x1="490.5" y1="712.7" x2="490.5" y2="706.3000000000001" stroke="#808080" stroke-width="0.8"/>
<line x1="532.2" y1="546.6" x2="532.2" y2="553.0" stroke="#808080" stroke-width="0.8"/>
<line x1="532.2" y1="712.7" x2="532.2" y2="706.3000000000001" stroke="#808080" stroke-width="0.8"/>
<line x1="624.6" y1="546.6" x2="624.6" y2="553.0" stroke="#808080" stroke-width="0.8"/>
<line x1="624.6" y1="712.7" x2="624.6" y2="706.3000000000001" stroke="#808080" stroke-width="0.8"/>
<line x1="315.2" y1="546.6" x2="315.2" y2="712.7" stroke="#f01018" stroke-width="1.1" stroke-dasharray="5.7 2.8" stroke-dashoffset="2.1" opacity="0.85"/>
<line x1="382.4" y1="546.6" x2="382.4" y2="712.7" stroke="#f01018" stroke-width="1.1" stroke-dasharray="5.7 2.8" stroke-dashoffset="2.1" opacity="0.85"/>
<line x1="490.5" y1="546.6" x2="490.5" y2="712.7" stroke="#f01018" stroke-width="1.1" stroke-dasharray="5.7 2.8" stroke-dashoffset="2.1" opacity="0.85"/>
<line x1="532.2" y1="546.6" x2="532.2" y2="712.7" stroke="#0000ff" stroke-width="1.15" stroke-dasharray="5.7 2.8" stroke-dashoffset="2.1" opacity="0.78"/>
<line x1="624.6" y1="546.6" x2="624.6" y2="712.7" stroke="#0000ff" stroke-width="1.15" stroke-dasharray="5.7 2.8" stroke-dashoffset="2.1" opacity="0.78"/>
<path d="M685 546.6 H47.6 V712.7 H685" fill="none" stroke="#7f7f7f" stroke-width="1.1"/>
<text class="t" x="42.3" y="553" text-anchor="end">0.5</text>
<text class="t" x="42.3" y="635" text-anchor="end">0</text>
<text class="t" x="42.3" y="718" text-anchor="end">-0.5</text>
<text class="l" transform="translate(12.4 628.9) rotate(-90) scale(1 0.96)" text-anchor="middle">AOD</text>
<text class="t" transform="translate(60.3 727.4) rotate(-45)" text-anchor="end">1 Jan</text>
<text class="t" transform="translate(325.0 727.4) rotate(-45)" text-anchor="end">LD1.0</text>
<text class="t" transform="translate(392.2 727.4) rotate(-45)" text-anchor="end">LD2.0</text>
<text class="t" transform="translate(449.3 727.4) rotate(-45)" text-anchor="end">LD3.0</text>
<text class="t" transform="translate(500.3 727.4) rotate(-45)" text-anchor="end">LD4.0</text>
<text class="t" transform="translate(542.0 727.4) rotate(-45)" text-anchor="end">UL1.0</text>
<text class="t" transform="translate(634.4 727.4) rotate(-45)" text-anchor="end">1 July.</text>
<text class="l" x="366.5" y="777" text-anchor="middle">Calendar Day</text>
<text class="b" transform="translate(366.7 540) scale(1.03 1)" text-anchor="middle">Uttar Pradesh</text>
</g>
<g>
<clipPath id="cc4"><rect x="47.6" y="809.6" width="642.4" height="166.10000000000002"/></clipPath>
<line x1="439.5" y1="809.6" x2="439.5" y2="975.7" stroke="#dcdcdc" stroke-width="1"/>
<line x1="51" y1="809.6" x2="51" y2="975.7" stroke="#f0f0f0" stroke-width="1"/>
<line x1="50.3" y1="893.15" x2="602.3" y2="893.15" stroke="#b4a8d0" stroke-width="0.8"/>
<line x1="47.6" y1="892.8" x2="50.3" y2="892.8" stroke="#8c8c8c" stroke-width="1"/>
<line x1="637.7" y1="892.8" x2="685" y2="892.8" stroke="#a0a0a0" stroke-width="1"/>
<line x1="602.3" y1="892.8" x2="637.7" y2="892.8" stroke="#a6d0ee" stroke-width="1.1"/>
<path d="M50.31 892.80 L50.31 892.80 L53.58 892.80 L56.65 892.80 L59.72 892.80 L63.39 892.80 L66.05 892.80 L69.53 892.80 L72.59 892.80 L76.07 892.80 L79.34 892.80 L82.40 892.80 L85.47 892.80 L88.53 892.80 L92.42 892.80 L95.48 892.80 L98.55 892.80 L101.61 892.80 L104.68 892.80 L107.74 892.80 L110.81 892.80 L114.49 892.80 L117.55 892.80 L120.62 892.80 L124.30 892.80 L127.36 892.80 L130.43 892.80 L133.29 892.80 L136.36 892.80 L140.04 892.80 L144.12 892.80 L147.19 892.80 L150.25 892.80 L150.26 892.77 L152.71 884.18 L155.77 884.18 L159.45 881.12 L162.52 878.26 L165.58 879.69 L168.65 885.82 L171.72 892.77 L171.73 892.80 L174.78 892.80 L177.85 892.80 L181.53 892.80 L185.00 892.80 L188.07 892.80 L191.13 892.80 L194.20 892.80 L197.26 892.80 L200.33 892.80 L203.80 892.80 L207.07 892.80 L209.93 892.80 L211.46 892.80 L213.61 892.56 L216.68 886.84 L219.74 879.69 L222.81 872.53 L226.90 866.40 L230.99 855.16 L235.07 842.90 L238.55 835.74 L241.61 831.66 L244.68 826.55 L247.95 823.89 L250.81 830.64 L253.47 840.85 L256.53 850.05 L259.60 860.27 L263.69 873.55 L266.75 884.80 L268.80 892.77 L268.81 892.80 L271.86 892.80 L275.95 892.80 L280.04 892.80 L283.51 892.80 L286.17 892.80 L289.23 892.80 L292.30 892.80 L296.39 892.80 L299.45 892.80 L302.52 892.80 L305.58 892.80 L309.67 892.80 L313.76 892.80 L316.82 892.80 L319.89 892.80 L325.00 892.80 L329.09 892.80 L334.20 892.80 L340.94 892.80 L343.80 892.80 L347.07 892.80 L350.55 892.80 L354.64 892.80 L357.70 892.80 L362.81 892.80 L367.92 892.80 L373.03 892.80 L378.14 892.80 L382.64 892.80 L388.36 892.80 L393.47 892.80 L398.17 892.80 L401.64 892.80 L405.12 892.80 L408.18 892.80 L410.84 892.80 L413.91 892.80 L415.94 892.80 L415.95 892.77 L417.99 887.45 L421.06 887.25 L424.12 890.52 L425.57 892.80 L426.58 892.80 L427.99 892.80 L429.64 890.93 L430.86 892.80 L432.30 892.80 L436.39 892.80 L439.45 892.80 L442.52 892.80 L445.58 892.80 L449.26 892.80 L451.72 892.80 L454.78 892.80 L455.57 892.80 L456.82 890.93 L458.87 886.43 L460.91 892.77 L460.92 892.80 L462.34 892.80 L465.00 892.80 L468.07 892.80 L489.53 892.80 L509.96 892.80 L513.03 892.80 L516.09 892.80 L519.16 892.80 L525.29 892.80 L528.77 892.80 L532.04 892.80 L534.90 892.80 L576.39 892.80 L579.45 892.80 L583.13 892.80 L586.61 892.80 L589.26 892.80 L592.74 892.80 L596.21 892.80 L598.87 892.80 L601.93 892.80 L602.34 892.80 Z" fill="#ff0000"/>
<path d="M50.31 892.80 L50.31 922.61 L53.58 929.76 L56.65 939.98 L59.72 942.02 L63.39 937.53 L66.05 933.23 L69.53 934.87 L72.59 934.46 L76.07 932.42 L79.34 923.63 L82.40 917.50 L85.47 918.93 L88.53 916.47 L92.42 910.75 L95.48 911.36 L98.55 913.82 L101.61 915.04 L104.68 919.54 L107.74 925.67 L110.81 935.89 L114.49 946.52 L117.55 946.11 L120.62 946.11 L124.30 949.79 L127.36 949.38 L130.43 950.81 L133.29 949.79 L136.36 941.00 L140.04 929.76 L144.12 916.47 L147.19 903.19 L150.25 892.80 L150.26 892.80 L152.71 892.80 L155.77 892.80 L159.45 892.80 L162.52 892.80 L165.58 892.80 L168.65 892.80 L171.72 892.80 L171.73 892.80 L174.78 899.10 L177.85 902.78 L181.53 905.23 L185.00 907.28 L188.07 905.23 L191.13 906.66 L194.20 906.26 L197.26 904.62 L200.33 905.64 L203.80 902.58 L207.07 898.69 L209.93 892.97 L211.46 892.80 L213.61 892.80 L216.68 892.80 L219.74 892.80 L222.81 892.80 L226.90 892.80 L230.99 892.80 L235.07 892.80 L238.55 892.80 L241.61 892.80 L244.68 892.80 L247.95 892.80 L250.81 892.80 L253.47 892.80 L256.53 892.80 L259.60 892.80 L263.69 892.80 L266.75 892.80 L268.80 892.80 L268.81 892.80 L271.86 902.17 L275.95 915.45 L280.04 927.31 L283.51 925.67 L286.17 919.54 L289.23 916.47 L292.30 914.84 L296.39 914.43 L299.45 915.45 L302.52 916.88 L305.58 915.86 L309.67 915.86 L313.76 918.52 L316.82 925.67 L319.89 932.82 L325.00 938.96 L329.09 942.02 L334.20 944.07 L340.94 950.61 L343.80 946.52 L347.07 934.87 L350.55 923.63 L354.64 916.47 L357.70 912.39 L362.81 908.30 L367.92 905.23 L373.03 902.17 L378.14 908.71 L382.64 914.84 L388.36 919.95 L393.47 917.09 L398.17 914.43 L401.64 907.69 L405.12 905.23 L408.18 900.74 L410.84 902.78 L413.91 897.06 L415.94 892.80 L415.95 892.80 L417.99 892.80 L421.06 892.80 L424.12 892.80 L425.57 892.80 L426.58 894.40 L427.99 892.80 L429.64 892.80 L430.86 892.80 L432.30 895.01 L436.39 898.49 L439.45 900.53 L442.52 899.92 L445.58 900.53 L449.26 906.26 L451.72 898.08 L454.78 893.99 L455.57 892.80 L456.82 892.80 L458.87 892.80 L460.91 892.80 L460.92 892.80 L462.34 897.06 L465.00 898.49 L468.07 896.04 L489.53 906.26 L509.96 915.45 L513.03 925.06 L516.09 916.47 L519.16 924.24 L525.29 917.91 L528.77 910.34 L532.04 908.30 L534.90 914.02 L576.39 910.34 L579.45 905.23 L583.13 895.42 L586.61 918.11 L589.26 899.51 L592.74 907.28 L596.21 900.12 L598.87 903.19 L601.93 902.17 L602.34 892.80 Z" fill="#0000ff"/>
<path d="M50.31 922.61 L53.58 929.76 L56.65 939.98 L59.72 942.02 L63.39 937.53 L66.05 933.23 L69.53 934.87 L72.59 934.46 L76.07 932.42 L79.34 923.63 L82.40 917.50 L85.47 918.93 L88.53 916.47 L92.42 910.75 L95.48 911.36 L98.55 913.82 L101.61 915.04 L104.68 919.54 L107.74 925.67 L110.81 935.89 L114.49 946.52 L117.55 946.11 L120.62 946.11 L124.30 949.79 L127.36 949.38 L130.43 950.81 L133.29 949.79 L136.36 941.00 L140.04 929.76 L144.12 916.47 L147.19 903.19 L150.26 892.77 L152.71 884.18 L155.77 884.18 L159.45 881.12 L162.52 878.26 L165.58 879.69 L168.65 885.82 L171.72 892.77 L174.78 899.10 L177.85 902.78 L181.53 905.23 L185.00 907.28 L188.07 905.23 L191.13 906.66 L194.20 906.26 L197.26 904.62 L200.33 905.64 L203.80 902.58 L207.07 898.69 L209.93 892.97 L213.61 892.56 L216.68 886.84 L219.74 879.69 L222.81 872.53 L226.90 866.40 L230.99 855.16 L235.07 842.90 L238.55 835.74 L241.61 831.66 L244.68 826.55 L247.95 823.89 L250.81 830.64 L253.47 840.85 L256.53 850.05 L259.60 860.27 L263.69 873.55 L266.75 884.80 L268.80 892.77 L271.86 902.17 L275.95 915.45 L280.04 927.31 L283.51 925.67 L286.17 919.54 L289.23 916.47 L292.30 914.84 L296.39 914.43 L299.45 915.45 L302.52 916.88 L305.58 915.86 L309.67 915.86 L313.76 918.52 L316.82 925.67 L319.89 932.82 L325.00 938.96 L329.09 942.02 L334.20 944.07 L340.94 950.61 L343.80 946.52 L347.07 934.87 L350.55 923.63 L354.64 916.47 L357.70 912.39 L362.81 908.30 L367.92 905.23 L373.03 902.17 L378.14 908.71 L382.64 914.84 L388.36 919.95 L393.47 917.09 L398.17 914.43 L401.64 907.69 L405.12 905.23 L408.18 900.74 L410.84 902.78 L413.91 897.06 L415.95 892.77 L417.99 887.45 L421.06 887.25 L424.12 890.52 L426.58 894.40 L429.64 890.93 L432.30 895.01 L436.39 898.49 L439.45 900.53 L442.52 899.92 L445.58 900.53 L449.26 906.26 L451.72 898.08 L454.78 893.99 L456.82 890.93 L458.87 886.43 L460.91 892.77 L462.34 897.06 L465.00 898.49 L468.07 896.04 L489.53 906.26 L509.96 915.45 L513.03 925.06 L516.09 916.47 L519.16 924.24 L525.29 917.91 L528.77 910.34 L532.04 908.30 L534.90 914.02 L576.39 910.34 L579.45 905.23 L583.13 895.42 L586.61 918.11 L589.26 899.51 L592.74 907.28 L596.21 900.12 L598.87 903.19 L601.93 902.17 L602.34 892.80" fill="none" stroke="#000" stroke-width="0.6" stroke-linejoin="round" clip-path="url(#cc4)"/>
<line x1="50.5" y1="809.6" x2="50.5" y2="816.0" stroke="#808080" stroke-width="0.8"/>
<line x1="50.5" y1="975.7" x2="50.5" y2="969.3000000000001" stroke="#808080" stroke-width="0.8"/>
<line x1="315.2" y1="809.6" x2="315.2" y2="816.0" stroke="#808080" stroke-width="0.8"/>
<line x1="315.2" y1="975.7" x2="315.2" y2="969.3000000000001" stroke="#808080" stroke-width="0.8"/>
<line x1="382.4" y1="809.6" x2="382.4" y2="816.0" stroke="#808080" stroke-width="0.8"/>
<line x1="382.4" y1="975.7" x2="382.4" y2="969.3000000000001" stroke="#808080" stroke-width="0.8"/>
<line x1="439.5" y1="809.6" x2="439.5" y2="816.0" stroke="#555" stroke-width="0.8"/>
<line x1="439.5" y1="975.7" x2="439.5" y2="969.3000000000001" stroke="#555" stroke-width="0.8"/>
<line x1="490.5" y1="809.6" x2="490.5" y2="816.0" stroke="#808080" stroke-width="0.8"/>
<line x1="490.5" y1="975.7" x2="490.5" y2="969.3000000000001" stroke="#808080" stroke-width="0.8"/>
<line x1="532.2" y1="809.6" x2="532.2" y2="816.0" stroke="#808080" stroke-width="0.8"/>
<line x1="532.2" y1="975.7" x2="532.2" y2="969.3000000000001" stroke="#808080" stroke-width="0.8"/>
<line x1="624.6" y1="809.6" x2="624.6" y2="816.0" stroke="#808080" stroke-width="0.8"/>
<line x1="624.6" y1="975.7" x2="624.6" y2="969.3000000000001" stroke="#808080" stroke-width="0.8"/>
<line x1="315.2" y1="809.6" x2="315.2" y2="975.7" stroke="#f01018" stroke-width="1.1" stroke-dasharray="5.7 2.8" stroke-dashoffset="2.1" opacity="0.85"/>
<line x1="382.4" y1="809.6" x2="382.4" y2="975.7" stroke="#f01018" stroke-width="1.1" stroke-dasharray="5.7 2.8" stroke-dashoffset="2.1" opacity="0.85"/>
<line x1="490.5" y1="809.6" x2="490.5" y2="975.7" stroke="#f01018" stroke-width="1.1" stroke-dasharray="5.7 2.8" stroke-dashoffset="2.1" opacity="0.85"/>
<line x1="532.2" y1="809.6" x2="532.2" y2="975.7" stroke="#0000ff" stroke-width="1.15" stroke-dasharray="5.7 2.8" stroke-dashoffset="2.1" opacity="0.78"/>
<line x1="624.6" y1="809.6" x2="624.6" y2="975.7" stroke="#0000ff" stroke-width="1.15" stroke-dasharray="5.7 2.8" stroke-dashoffset="2.1" opacity="0.78"/>
<path d="M685 809.6 H47.6 V975.7 H685" fill="none" stroke="#7f7f7f" stroke-width="1.1"/>
<text class="t" x="42.3" y="816" text-anchor="end">0.5</text>
<text class="t" x="42.3" y="898" text-anchor="end">0</text>
<text class="t" x="42.3" y="981" text-anchor="end">-0.5</text>
<text class="l" transform="translate(12.4 892.5) rotate(-90) scale(1 0.96)" text-anchor="middle">AOD</text>
<text class="t" transform="translate(60.3 990.4) rotate(-45)" text-anchor="end">1 Jan</text>
<text class="t" transform="translate(325.0 990.4) rotate(-45)" text-anchor="end">LD1.0</text>
<text class="t" transform="translate(392.2 990.4) rotate(-45)" text-anchor="end">LD2.0</text>
<text class="t" transform="translate(449.3 990.4) rotate(-45)" text-anchor="end">LD3.0</text>
<text class="t" transform="translate(500.3 990.4) rotate(-45)" text-anchor="end">LD4.0</text>
<text class="t" transform="translate(542.0 990.4) rotate(-45)" text-anchor="end">UL1.0</text>
<text class="t" transform="translate(634.4 990.4) rotate(-45)" text-anchor="end">1 July.</text>
<text class="l" x="366.5" y="1040" text-anchor="middle">Calendar Day</text>
<text class="b" transform="translate(366.7 803) scale(1.03 1)" text-anchor="middle">Tamil Nadu</text>
</g>
<g>
<clipPath id="cc5"><rect x="47.6" y="1077.6" width="642.4" height="166.10000000000014"/></clipPath>
<line x1="439.5" y1="1077.6" x2="439.5" y2="1243.7" stroke="#dcdcdc" stroke-width="1"/>
<line x1="51" y1="1077.6" x2="51" y2="1243.7" stroke="#f0f0f0" stroke-width="1"/>
<line x1="50.3" y1="1160.55" x2="602.3" y2="1160.55" stroke="#b4a8d0" stroke-width="0.8"/>
<line x1="47.6" y1="1160.2" x2="50.3" y2="1160.2" stroke="#8c8c8c" stroke-width="1"/>
<line x1="637.7" y1="1160.2" x2="685" y2="1160.2" stroke="#a0a0a0" stroke-width="1"/>
<line x1="602.3" y1="1160.2" x2="637.7" y2="1160.2" stroke="#a6d0ee" stroke-width="1.1"/>
<path d="M50.31 1160.20 L50.31 1147.69 L53.58 1146.26 L56.65 1146.66 L59.72 1148.30 L62.99 1144.62 L66.46 1141.15 L69.53 1144.21 L72.59 1149.12 L75.66 1149.12 L78.11 1158.93 L78.53 1160.20 L80.15 1160.20 L82.81 1160.20 L85.88 1160.20 L88.94 1160.20 L91.60 1160.20 L95.07 1160.20 L98.55 1160.20 L101.61 1160.20 L104.68 1160.20 L107.34 1160.20 L107.90 1160.20 L109.38 1152.80 L111.42 1146.05 L114.49 1145.64 L117.55 1140.53 L121.03 1138.08 L124.71 1130.31 L128.80 1122.55 L133.29 1116.01 L136.56 1121.12 L139.42 1131.34 L142.69 1145.03 L146.17 1146.26 L149.23 1147.69 L152.30 1149.73 L155.36 1156.88 L156.69 1160.20 L157.41 1160.20 L160.47 1160.20 L163.13 1160.20 L165.58 1160.20 L168.24 1160.20 L171.31 1160.20 L174.17 1160.20 L177.85 1160.20 L180.89 1160.20 L180.91 1160.15 L182.96 1152.80 L185.00 1145.64 L188.07 1139.51 L192.15 1133.99 L196.24 1126.23 L200.33 1119.07 L204.42 1117.03 L207.89 1116.42 L209.93 1117.64 L212.59 1128.27 L215.66 1137.47 L218.72 1140.94 L221.79 1146.66 L224.85 1154.43 L227.92 1159.34 L230.13 1160.20 L231.60 1160.20 L232.67 1160.20 L235.07 1158.93 L238.55 1157.29 L240.63 1160.20 L241.61 1160.20 L242.04 1160.20 L244.68 1151.77 L247.95 1152.18 L250.81 1155.25 L254.49 1158.52 L257.55 1158.93 L261.03 1156.88 L263.69 1160.15 L263.72 1160.20 L266.75 1160.20 L270.43 1160.20 L273.29 1160.20 L276.36 1160.20 L280.04 1160.20 L283.10 1160.20 L286.17 1160.20 L289.64 1160.20 L292.91 1160.20 L295.98 1160.20 L299.04 1160.20 L302.52 1160.20 L305.58 1160.20 L309.26 1160.20 L312.74 1160.20 L315.80 1160.20 L318.87 1160.20 L321.93 1160.20 L325.00 1160.20 L327.66 1160.20 L331.13 1160.20 L334.20 1160.20 L337.67 1160.20 L340.94 1160.20 L343.80 1160.20 L347.07 1160.20 L349.93 1160.20 L352.59 1160.20 L355.66 1160.20 L358.69 1160.20 L358.72 1160.15 L362.81 1155.86 L365.88 1157.50 L368.94 1155.86 L372.42 1149.73 L375.69 1142.99 L378.55 1139.92 L382.23 1137.88 L385.29 1142.58 L388.77 1147.69 L392.04 1149.73 L395.10 1154.84 L398.58 1149.73 L401.64 1146.26 L404.30 1153.82 L406.75 1160.15 L406.77 1160.20 L409.82 1160.20 L413.91 1160.20 L416.97 1160.20 L420.04 1160.20 L423.10 1160.20 L426.17 1160.20 L429.23 1160.20 L432.30 1160.20 L436.39 1160.20 L440.47 1160.20 L445.58 1160.20 L449.67 1160.20 L452.74 1160.20 L455.80 1160.20 L458.87 1160.20 L461.93 1160.20 L465.00 1160.20 L468.07 1160.20 L471.13 1160.20 L475.22 1160.20 L479.31 1160.20 L483.39 1160.20 L487.48 1160.20 L490.55 1160.20 L494.02 1160.20 L497.67 1160.20 L497.70 1160.15 L501.79 1151.77 L506.49 1144.62 L509.96 1149.73 L514.05 1156.88 L516.50 1160.15 L516.52 1160.20 L519.16 1160.20 L522.23 1160.20 L526.31 1160.20 L531.42 1160.20 L535.51 1160.20 L538.58 1160.20 L541.64 1160.20 L544.69 1160.20 L544.71 1160.15 L547.77 1151.77 L551.25 1150.75 L554.31 1158.93 L554.97 1160.20 L556.97 1160.20 L560.04 1160.20 L564.12 1160.20 L568.21 1160.20 L572.30 1160.20 L576.39 1160.20 L586.61 1160.20 L589.26 1160.20 L592.74 1160.20 L596.21 1160.20 L599.28 1160.20 L601.53 1160.20 L602.34 1160.20 L602.34 1160.20 Z" fill="#ff0000"/>
<path d="M50.31 1160.20 L50.31 1160.20 L53.58 1160.20 L56.65 1160.20 L59.72 1160.20 L62.99 1160.20 L66.46 1160.20 L69.53 1160.20 L72.59 1160.20 L75.66 1160.20 L78.11 1160.20 L78.53 1160.20 L80.15 1165.06 L82.81 1173.23 L85.88 1178.75 L88.94 1181.00 L91.60 1180.59 L95.07 1182.02 L98.55 1181.82 L101.61 1179.36 L104.68 1172.21 L107.34 1163.01 L107.90 1160.20 L109.38 1160.20 L111.42 1160.20 L114.49 1160.20 L117.55 1160.20 L121.03 1160.20 L124.71 1160.20 L128.80 1160.20 L133.29 1160.20 L136.56 1160.20 L139.42 1160.20 L142.69 1160.20 L146.17 1160.20 L149.23 1160.20 L152.30 1160.20 L155.36 1160.20 L156.69 1160.20 L157.41 1161.99 L160.47 1171.19 L163.13 1180.39 L165.58 1191.22 L168.24 1192.45 L171.31 1190.61 L174.17 1183.45 L177.85 1170.17 L180.89 1160.20 L180.91 1160.20 L182.96 1160.20 L185.00 1160.20 L188.07 1160.20 L192.15 1160.20 L196.24 1160.20 L200.33 1160.20 L204.42 1160.20 L207.89 1160.20 L209.93 1160.20 L212.59 1160.20 L215.66 1160.20 L218.72 1160.20 L221.79 1160.20 L224.85 1160.20 L227.92 1160.20 L230.13 1160.20 L231.60 1160.77 L232.67 1160.20 L235.07 1160.20 L238.55 1160.20 L240.63 1160.20 L241.61 1161.58 L242.04 1160.20 L244.68 1160.20 L247.95 1160.20 L250.81 1160.20 L254.49 1160.20 L257.55 1160.20 L261.03 1160.20 L263.69 1160.20 L263.72 1160.20 L266.75 1165.06 L270.43 1174.26 L273.29 1179.36 L276.36 1189.58 L280.04 1194.08 L283.10 1189.58 L286.17 1182.43 L289.64 1173.23 L292.91 1172.62 L295.98 1170.58 L299.04 1174.66 L302.52 1175.28 L305.58 1178.34 L309.26 1182.43 L312.74 1184.88 L315.80 1193.67 L318.87 1205.93 L321.93 1216.56 L325.00 1218.61 L327.66 1220.24 L331.13 1211.04 L334.20 1202.87 L337.67 1197.76 L340.94 1191.22 L343.80 1192.65 L347.07 1188.56 L349.93 1184.47 L352.59 1175.28 L355.66 1166.08 L358.69 1160.20 L358.72 1160.20 L362.81 1160.20 L365.88 1160.20 L368.94 1160.20 L372.42 1160.20 L375.69 1160.20 L378.55 1160.20 L382.23 1160.20 L385.29 1160.20 L388.77 1160.20 L392.04 1160.20 L395.10 1160.20 L398.58 1160.20 L401.64 1160.20 L404.30 1160.20 L406.75 1160.20 L406.77 1160.20 L409.82 1168.12 L413.91 1177.32 L416.97 1181.00 L420.04 1183.04 L423.10 1189.58 L426.17 1191.01 L429.23 1199.80 L432.30 1203.89 L436.39 1206.96 L440.47 1209.00 L445.58 1209.61 L449.67 1208.59 L452.74 1210.02 L455.80 1201.44 L458.87 1200.82 L461.93 1196.12 L465.00 1198.78 L468.07 1195.72 L471.13 1189.58 L475.22 1184.47 L479.31 1177.32 L483.39 1171.19 L487.48 1167.51 L490.55 1166.69 L494.02 1166.08 L497.67 1160.20 L497.70 1160.20 L501.79 1160.20 L506.49 1160.20 L509.96 1160.20 L514.05 1160.20 L516.50 1160.20 L516.52 1160.20 L519.16 1166.08 L522.23 1166.69 L526.31 1172.21 L531.42 1178.34 L535.51 1177.93 L538.58 1178.75 L541.64 1168.12 L544.69 1160.20 L544.71 1160.20 L547.77 1160.20 L551.25 1160.20 L554.31 1160.20 L554.97 1160.20 L556.97 1164.04 L560.04 1177.32 L564.12 1190.61 L568.21 1207.98 L572.30 1226.37 L576.39 1243.70 L586.61 1243.70 L589.26 1236.59 L592.74 1220.24 L596.21 1209.00 L599.28 1211.66 L601.53 1202.87 L602.34 1195.72 L602.34 1160.20 Z" fill="#0000ff"/>
<path d="M50.31 1147.69 L53.58 1146.26 L56.65 1146.66 L59.72 1148.30 L62.99 1144.62 L66.46 1141.15 L69.53 1144.21 L72.59 1149.12 L75.66 1149.12 L78.11 1158.93 L80.15 1165.06 L82.81 1173.23 L85.88 1178.75 L88.94 1181.00 L91.60 1180.59 L95.07 1182.02 L98.55 1181.82 L101.61 1179.36 L104.68 1172.21 L107.34 1163.01 L109.38 1152.80 L111.42 1146.05 L114.49 1145.64 L117.55 1140.53 L121.03 1138.08 L124.71 1130.31 L128.80 1122.55 L133.29 1116.01 L136.56 1121.12 L139.42 1131.34 L142.69 1145.03 L146.17 1146.26 L149.23 1147.69 L152.30 1149.73 L155.36 1156.88 L157.41 1161.99 L160.47 1171.19 L163.13 1180.39 L165.58 1191.22 L168.24 1192.45 L171.31 1190.61 L174.17 1183.45 L177.85 1170.17 L180.91 1160.15 L182.96 1152.80 L185.00 1145.64 L188.07 1139.51 L192.15 1133.99 L196.24 1126.23 L200.33 1119.07 L204.42 1117.03 L207.89 1116.42 L209.93 1117.64 L212.59 1128.27 L215.66 1137.47 L218.72 1140.94 L221.79 1146.66 L224.85 1154.43 L227.92 1159.34 L231.60 1160.77 L235.07 1158.93 L238.55 1157.29 L241.61 1161.58 L244.68 1151.77 L247.95 1152.18 L250.81 1155.25 L254.49 1158.52 L257.55 1158.93 L261.03 1156.88 L263.69 1160.15 L266.75 1165.06 L270.43 1174.26 L273.29 1179.36 L276.36 1189.58 L280.04 1194.08 L283.10 1189.58 L286.17 1182.43 L289.64 1173.23 L292.91 1172.62 L295.98 1170.58 L299.04 1174.66 L302.52 1175.28 L305.58 1178.34 L309.26 1182.43 L312.74 1184.88 L315.80 1193.67 L318.87 1205.93 L321.93 1216.56 L325.00 1218.61 L327.66 1220.24 L331.13 1211.04 L334.20 1202.87 L337.67 1197.76 L340.94 1191.22 L343.80 1192.65 L347.07 1188.56 L349.93 1184.47 L352.59 1175.28 L355.66 1166.08 L358.72 1160.15 L362.81 1155.86 L365.88 1157.50 L368.94 1155.86 L372.42 1149.73 L375.69 1142.99 L378.55 1139.92 L382.23 1137.88 L385.29 1142.58 L388.77 1147.69 L392.04 1149.73 L395.10 1154.84 L398.58 1149.73 L401.64 1146.26 L404.30 1153.82 L406.75 1160.15 L409.82 1168.12 L413.91 1177.32 L416.97 1181.00 L420.04 1183.04 L423.10 1189.58 L426.17 1191.01 L429.23 1199.80 L432.30 1203.89 L436.39 1206.96 L440.47 1209.00 L445.58 1209.61 L449.67 1208.59 L452.74 1210.02 L455.80 1201.44 L458.87 1200.82 L461.93 1196.12 L465.00 1198.78 L468.07 1195.72 L471.13 1189.58 L475.22 1184.47 L479.31 1177.32 L483.39 1171.19 L487.48 1167.51 L490.55 1166.69 L494.02 1166.08 L497.70 1160.15 L501.79 1151.77 L506.49 1144.62 L509.96 1149.73 L514.05 1156.88 L516.50 1160.15 L519.16 1166.08 L522.23 1166.69 L526.31 1172.21 L531.42 1178.34 L535.51 1177.93 L538.58 1178.75 L541.64 1168.12 L544.71 1160.15 L547.77 1151.77 L551.25 1150.75 L554.31 1158.93 L556.97 1164.04 L560.04 1177.32 L564.12 1190.61 L568.21 1207.98 L572.30 1226.37 L576.39 1245.79 L586.61 1245.79 L589.26 1236.59 L592.74 1220.24 L596.21 1209.00 L599.28 1211.66 L601.53 1202.87 L602.34 1195.72 L602.34 1160.20" fill="none" stroke="#000" stroke-width="0.6" stroke-linejoin="round" clip-path="url(#cc5)"/>
<line x1="50.5" y1="1077.6" x2="50.5" y2="1084.0" stroke="#808080" stroke-width="0.8"/>
<line x1="50.5" y1="1243.7" x2="50.5" y2="1237.3" stroke="#808080" stroke-width="0.8"/>
<line x1="315.2" y1="1077.6" x2="315.2" y2="1084.0" stroke="#808080" stroke-width="0.8"/>
<line x1="315.2" y1="1243.7" x2="315.2" y2="1237.3" stroke="#808080" stroke-width="0.8"/>
<line x1="382.4" y1="1077.6" x2="382.4" y2="1084.0" stroke="#808080" stroke-width="0.8"/>
<line x1="382.4" y1="1243.7" x2="382.4" y2="1237.3" stroke="#808080" stroke-width="0.8"/>
<line x1="439.5" y1="1077.6" x2="439.5" y2="1084.0" stroke="#555" stroke-width="0.8"/>
<line x1="439.5" y1="1243.7" x2="439.5" y2="1237.3" stroke="#555" stroke-width="0.8"/>
<line x1="490.5" y1="1077.6" x2="490.5" y2="1084.0" stroke="#808080" stroke-width="0.8"/>
<line x1="490.5" y1="1243.7" x2="490.5" y2="1237.3" stroke="#808080" stroke-width="0.8"/>
<line x1="532.2" y1="1077.6" x2="532.2" y2="1084.0" stroke="#808080" stroke-width="0.8"/>
<line x1="532.2" y1="1243.7" x2="532.2" y2="1237.3" stroke="#808080" stroke-width="0.8"/>
<line x1="624.6" y1="1077.6" x2="624.6" y2="1084.0" stroke="#808080" stroke-width="0.8"/>
<line x1="624.6" y1="1243.7" x2="624.6" y2="1237.3" stroke="#808080" stroke-width="0.8"/>
<line x1="315.2" y1="1077.6" x2="315.2" y2="1243.7" stroke="#f01018" stroke-width="1.1" stroke-dasharray="5.7 2.8" stroke-dashoffset="2.1" opacity="0.85"/>
<line x1="382.4" y1="1077.6" x2="382.4" y2="1243.7" stroke="#f01018" stroke-width="1.1" stroke-dasharray="5.7 2.8" stroke-dashoffset="2.1" opacity="0.85"/>
<line x1="490.5" y1="1077.6" x2="490.5" y2="1243.7" stroke="#f01018" stroke-width="1.1" stroke-dasharray="5.7 2.8" stroke-dashoffset="2.1" opacity="0.85"/>
<line x1="532.2" y1="1077.6" x2="532.2" y2="1243.7" stroke="#0000ff" stroke-width="1.15" stroke-dasharray="5.7 2.8" stroke-dashoffset="2.1" opacity="0.78"/>
<line x1="624.6" y1="1077.6" x2="624.6" y2="1243.7" stroke="#0000ff" stroke-width="1.15" stroke-dasharray="5.7 2.8" stroke-dashoffset="2.1" opacity="0.78"/>
<path d="M685 1077.6 H47.6 V1243.7 H685" fill="none" stroke="#7f7f7f" stroke-width="1.1"/>
<text class="t" x="42.3" y="1083" text-anchor="end">0.5</text>
<text class="t" x="42.3" y="1166" text-anchor="end">0</text>
<text class="t" x="42.3" y="1249" text-anchor="end">-0.5</text>
<text class="l" transform="translate(12.4 1160.2) rotate(-90) scale(1 0.96)" text-anchor="middle">AOD</text>
<text class="t" transform="translate(60.3 1258.4) rotate(-45)" text-anchor="end">1 Jan</text>
<text class="t" transform="translate(325.0 1258.4) rotate(-45)" text-anchor="end">LD1.0</text>
<text class="t" transform="translate(392.2 1258.4) rotate(-45)" text-anchor="end">LD2.0</text>
<text class="t" transform="translate(449.3 1258.4) rotate(-45)" text-anchor="end">LD3.0</text>
<text class="t" transform="translate(500.3 1258.4) rotate(-45)" text-anchor="end">LD4.0</text>
<text class="t" transform="translate(542.0 1258.4) rotate(-45)" text-anchor="end">UL1.0</text>
<text class="t" transform="translate(634.4 1258.4) rotate(-45)" text-anchor="end">1 July.</text>
<text class="l" x="366.5" y="1307" text-anchor="middle">Calendar Day</text>
<text class="b" transform="translate(366.7 1070) scale(1.03 1)" text-anchor="middle">NorthEast</text>
</g>
</svg></body></html>
